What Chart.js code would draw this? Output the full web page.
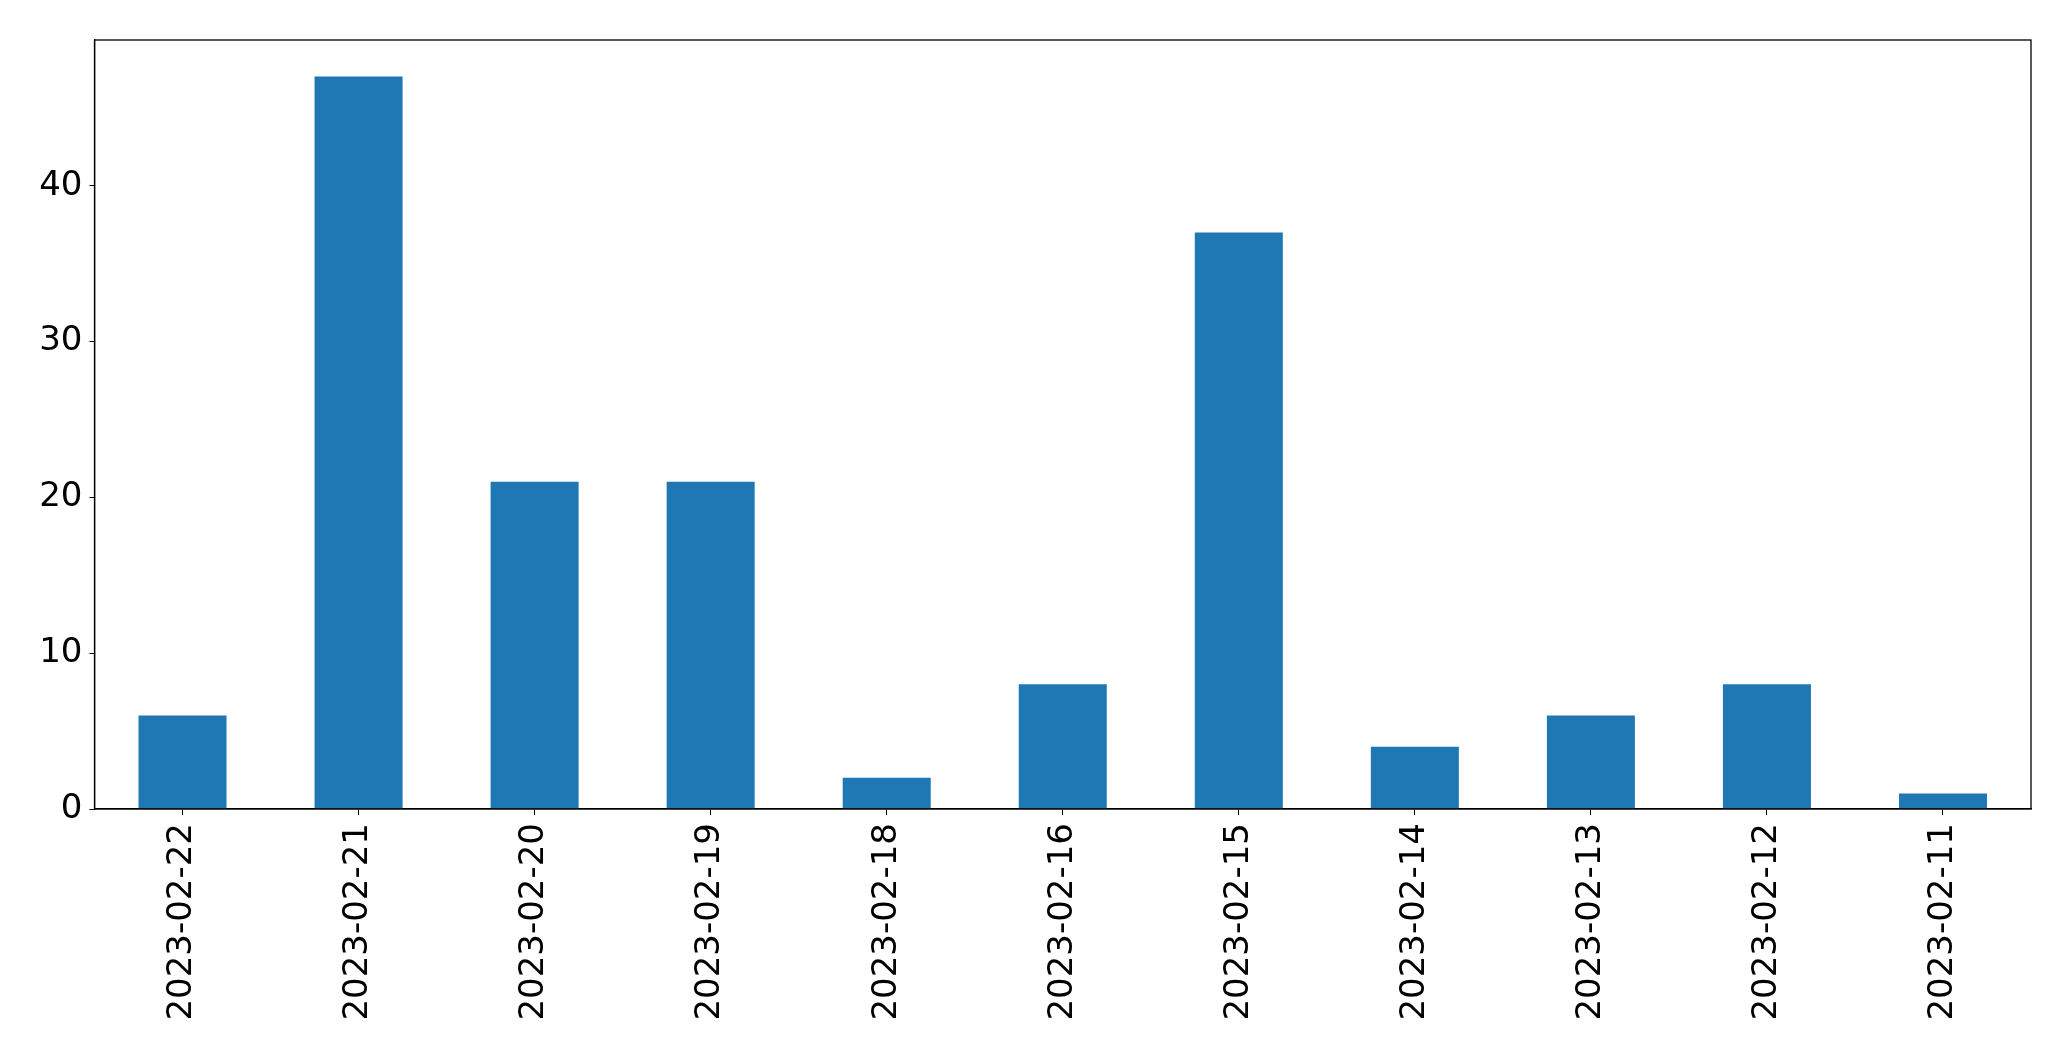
<!DOCTYPE html>
<html>
<head>
<meta charset="utf-8">
<script src="https://cdn.jsdelivr.net/npm/chart.js@4/dist/chart.umd.min.js"></script>
<style>
  html, body { margin: 0; padding: 0; background: #fff; }
  #wrap { width: 2071px; height: 1061px; position: relative; }
</style>
</head>
<body>
<div id="wrap"><canvas id="chart"></canvas></div>
<script>
// dados do gráfico
const dias = ['2023-02-22', '2023-02-21', '2023-02-20', '2023-02-19', '2023-02-18', '2023-02-16',
              '2023-02-15', '2023-02-14', '2023-02-13', '2023-02-12', '2023-02-11'];
const contagens = [6, 47, 21, 21, 2, 8, 37, 4, 6, 8, 1];
const yTicks = [0, 10, 20, 30, 40];

// moldura preta em volta da área do gráfico (estilo matplotlib)
const moldura = {
    id: 'moldura',
    afterDraw(chart) {
        const a = chart.chartArea;
        const c = chart.ctx;
        c.save();
        c.strokeStyle = '#000';
        c.lineWidth = 1.3;
        c.strokeRect(a.left, a.top, a.right - a.left, a.bottom - a.top);
        c.restore();
    }
};

const fonte = { family: 'DejaVu Sans', size: 34 };

new Chart(document.getElementById('chart'), {
    type: 'bar',
    data: {
        labels: dias,
        datasets: [{
            data: contagens,
            backgroundColor: '#1f77b4',
            borderWidth: 0,
            barPercentage: 0.5,
            categoryPercentage: 1.0
        }]
    },
    options: {
        responsive: true,
        maintainAspectRatio: false,
        animation: false,
        layout: { padding: { top: 40, right: 40, left: 0, bottom: 0 } },
        plugins: { legend: { display: false }, tooltip: { enabled: false } },
        scales: {
            x: {
                offset: true,
                grid: { display: true, offset: false, drawOnChartArea: false, tickLength: 6, color: '#000' },
                border: { display: true, color: '#000', width: 1.3 },
                ticks: { color: '#000', font: fonte, minRotation: 90, maxRotation: 90, padding: 8, autoSkip: false },
                afterFit(scale) { scale.height = 252; }
            },
            y: {
                min: 0,
                max: 49.35,
                afterBuildTicks(scale) { scale.ticks = yTicks.map(v => ({ value: v })); },
                grid: { display: true, drawOnChartArea: false, tickLength: 5, color: '#000' },
                border: { display: true, color: '#000', width: 1.3 },
                ticks: { color: '#000', font: fonte, padding: 7 },
                afterFit(scale) { scale.width = 94.5; }
            }
        }
    },
    plugins: [moldura]
});
</script>
</body>
</html>
